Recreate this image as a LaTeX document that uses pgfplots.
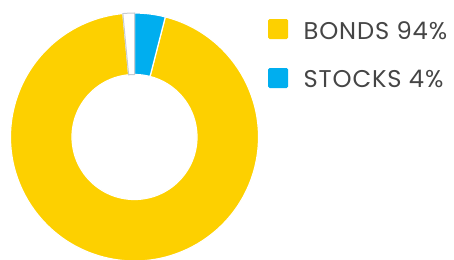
\documentclass[border=0pt]{standalone}
\usepackage{pgfplots}
\pgfplotsset{compat=1.18}
\usepackage{fontspec}
\setmainfont{Poppins}
\newfontfamily\legfont[LetterSpace=3.5]{Poppins}
\definecolor{bondc}{HTML}{FDD000}
\definecolor{stockc}{HTML}{00AEEF}
\definecolor{edgec}{HTML}{C5CBD1}
\definecolor{txtc}{HTML}{454545}
% slice values (percent), clockwise from top
\def\vS{4}\def\vB{94.5}\def\vO{1.5}
\def\cx{134.5}\def\cy{122}\def\Ro{124}\def\Ri{62.5}
\pgfmathsetmacro\aA{90}
\pgfmathsetmacro\aB{90-3.6*\vS}
\pgfmathsetmacro\aC{\aB-3.6*\vB}
\pgfmathsetmacro\aD{\aC-3.6*\vO}
\newcommand\donutwedge[3]{\filldraw[#3] (axis cs:{\cx+\Ro*cos(#1)},{\cy+\Ro*sin(#1)}) arc[start angle=#1,end angle=#2,radius=\Ro bp] -- (axis cs:{\cx+\Ri*cos(#2)},{\cy+\Ri*sin(#2)}) arc[start angle=#2,end angle=#1,radius=\Ri bp] -- cycle;}
\begin{document}
\begin{tikzpicture}
\begin{axis}[x=1bp,y=1bp,xmin=0,xmax=454,ymin=0,ymax=259,hide axis,clip=false,scale only axis]
\coordinate (bl) at (axis cs:0,0);
\coordinate (tr) at (axis cs:454,259);
\donutwedge{\aB}{\aC}{fill=bondc,draw=white,line width=1.2bp}
\donutwedge{\aA}{\aB}{fill=stockc,draw=white,line width=1.2bp}
\donutwedge{\aC}{\aD}{fill=white,draw=edgec,line width=1bp}
\fill[bondc,rounded corners=1.5bp] (axis cs:268,220) rectangle (axis cs:288,240);
\fill[stockc,rounded corners=1.5bp] (axis cs:268,171) rectangle (axis cs:288,191);
\node[anchor=base west,inner sep=0,text=txtc,font=\legfont\fontsize{24.3}{28}\selectfont] at (axis cs:303.5,220) {BONDS 94\%};
\node[anchor=base west,inner sep=0,text=txtc,font=\legfont\fontsize{24.3}{28}\selectfont] at (axis cs:303.5,172) {STOCKS 4\%};
\end{axis}
\pgfresetboundingbox
\useasboundingbox (bl) rectangle (tr);
\end{tikzpicture}
\end{document}
